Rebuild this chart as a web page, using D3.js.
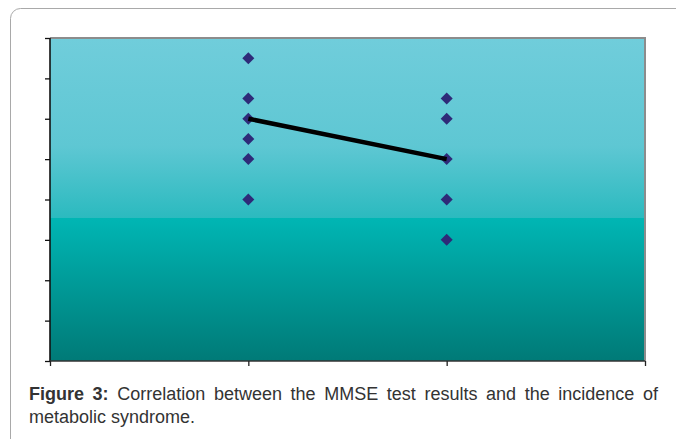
<!DOCTYPE html>
<html><head><meta charset="utf-8">
<script src="https://d3js.org/d3.v7.min.js"></script>
<style>body{margin:0;background:#fff}svg{display:block}</style>
</head><body>
<script>
const categories = ["", "Group A", "Group B", ""];
const groupA = [7.5, 6.5, 6.0, 5.5, 5.0, 4.0];
const groupB = [6.5, 6.0, 5.0, 4.0, 3.0];
const lineValues = [6.0, 5.0];
const yTicks = [0, 1, 2, 3, 4, 5, 6, 7, 8];
const captionBold = "Figure 3:";
const captionLine1 = "Correlation between the MMSE test results and the incidence of";
const captionLine2 = "metabolic syndrome.";

const W = 676, H = 439;
const svg = d3.select("body").append("svg").attr("width", W).attr("height", H);

// outer frame
svg.append("rect").attr("x", 10.5).attr("y", 8.5).attr("width", 700).attr("height", 470)
  .attr("rx", 10).attr("fill", "none").attr("stroke", "#a9a9a9").attr("stroke-width", 1);

const L = 50, R = 645, T = 38, B = 361;
const x = d3.scalePoint().domain(d3.range(categories.length)).range([L, R]);
const y = d3.scaleLinear().domain([0, 8]).range([B, T]);

const defs = svg.append("defs");
const g = defs.append("linearGradient").attr("id", "bg").attr("x1", 0).attr("y1", 0).attr("x2", 0).attr("y2", 1);
const split = (218 - T) / (B - T);
g.append("stop").attr("offset", 0).attr("stop-color", "#70cddb");
g.append("stop").attr("offset", split * 0.6).attr("stop-color", "#5ec7d3");
g.append("stop").attr("offset", split).attr("stop-color", "#2bbabf");
g.append("stop").attr("offset", split).attr("stop-color", "#00b6b4");
g.append("stop").attr("offset", 1).attr("stop-color", "#007a77");

svg.append("rect").attr("x", L).attr("y", T).attr("width", R - L).attr("height", B - T).attr("fill", "url(#bg)");
// top & right gray border
svg.append("path").attr("d", `M${L},${T}H${R}V${B}`).attr("fill", "none").attr("stroke", "#8c8c8c").attr("stroke-width", 2);

// y axis
const yAxis = svg.append("g").attr("transform", `translate(${L},0)`)
  .call(d3.axisLeft(y).tickValues(yTicks).tickSize(5).tickFormat(""));
yAxis.selectAll("path,line").attr("stroke", "#111").attr("stroke-width", 1.3);
yAxis.select(".domain").attr("d", `M0,${T}V${B}`).attr("stroke-width", 1.6);

// x axis
const xAxis = svg.append("g").attr("transform", `translate(0,${B})`)
  .call(d3.axisBottom(x).tickSize(5).tickFormat(""));
xAxis.selectAll("path,line").attr("stroke", "#222").attr("stroke-width", 1.3);
xAxis.select(".domain").attr("d", `M${L},0H${R}`).attr("stroke", "#333").attr("stroke-width", 1.6);

// markers
const pts = groupA.map(v => ({ i: 1, v })).concat(groupB.map(v => ({ i: 2, v })));
svg.selectAll(".pt").data(pts).enter().append("path")
  .attr("d", d3.symbol().type(d3.symbolSquare).size(72))
  .attr("transform", d => `translate(${x(d.i)},${y(d.v)}) rotate(45)`)
  .attr("fill", "#2e2a78");

// line
svg.append("path").datum(lineValues)
  .attr("d", d3.line().x((d, i) => x(i + 1)).y(d => y(d)))
  .attr("fill", "none").attr("stroke", "#000").attr("stroke-width", 4.5);

// caption
const cap = svg.append("g").attr("font-family", "Liberation Sans, Arial, sans-serif").attr("font-size", 18).attr("fill", "#333");
const t1 = cap.append("text").attr("x", 29).attr("y", 400);
t1.append("tspan").attr("font-weight", "bold").text(captionBold);
t1.append("tspan").text(" " + captionLine1);
const natural = t1.node().getComputedTextLength();
const target = 658 - 29;
const spaces = (captionBold + " " + captionLine1).split(" ").length - 1;
t1.attr("word-spacing", Math.max(0, (target - natural) / spaces));
cap.append("text").attr("x", 29).attr("y", 423).text(captionLine2);
</script>
</body></html>
